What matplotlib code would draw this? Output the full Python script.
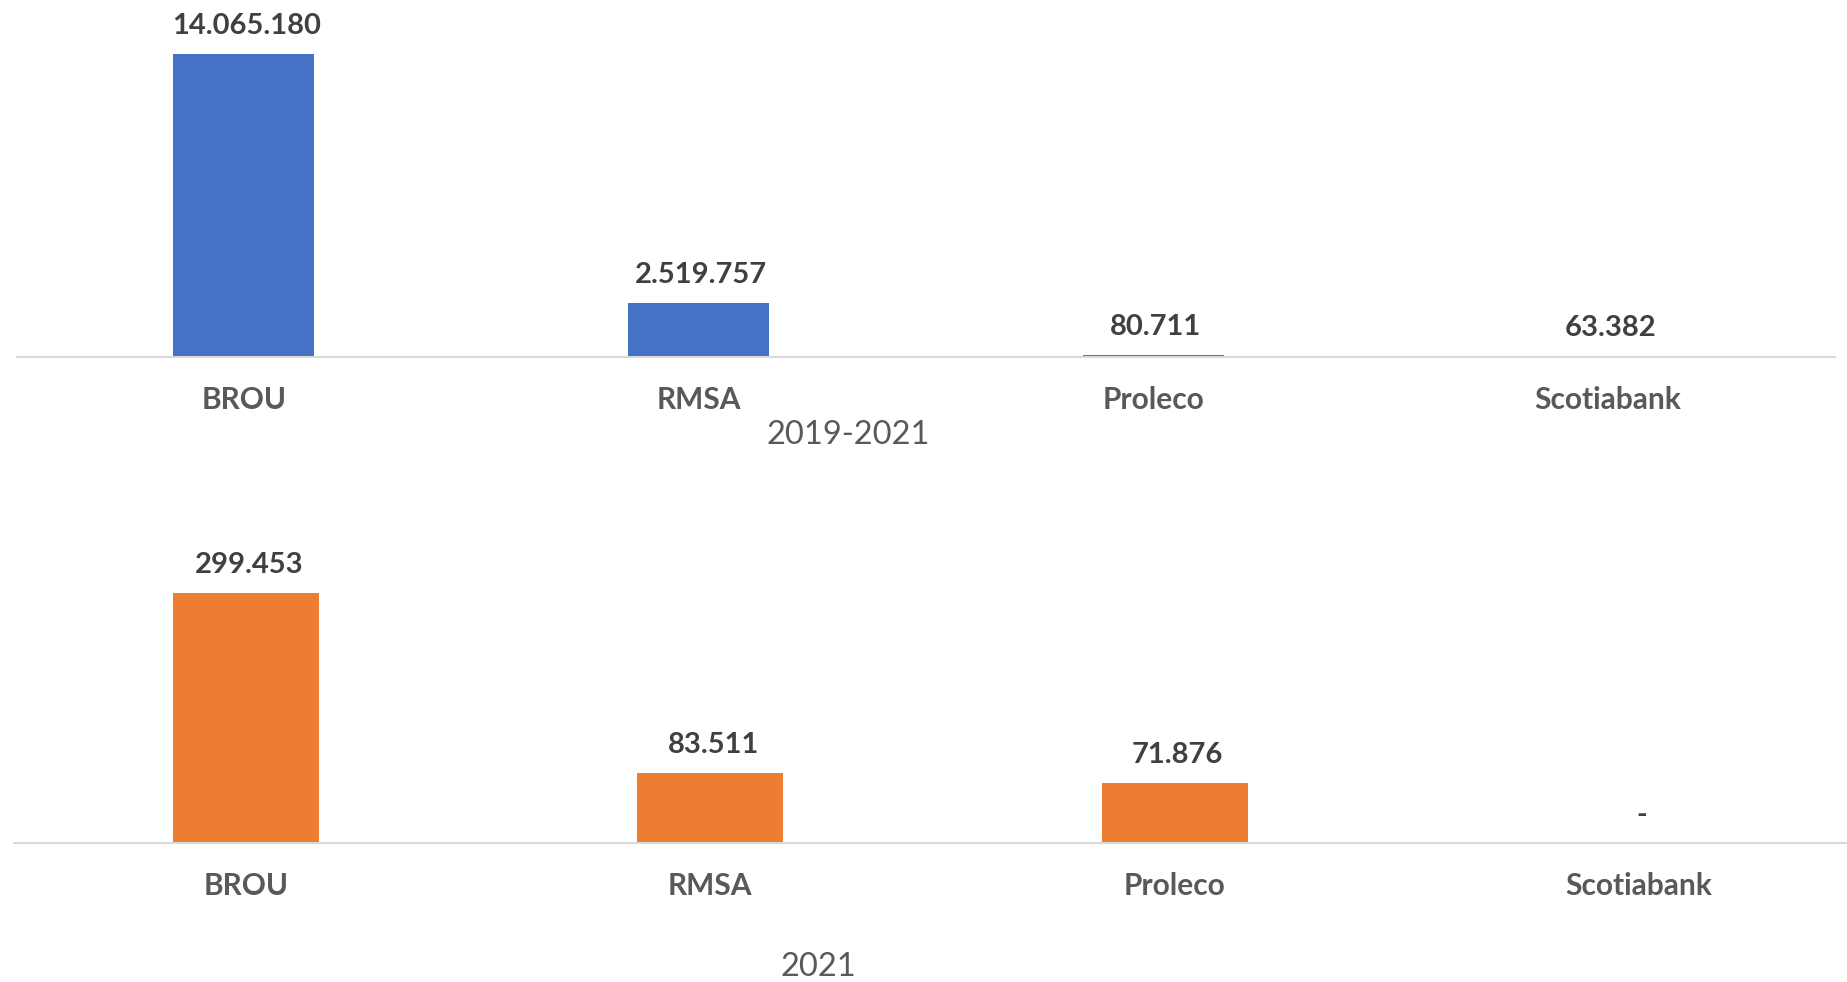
import matplotlib
matplotlib.use("Agg")
import matplotlib.pyplot as plt

plt.rcParams['font.family'] = ['Lato', 'DejaVu Sans']

banks = ['BROU', 'RMSA', 'Proleco', 'Scotiabank']
vals_1921 = [14065180, 2519757, 80711, 63382]
vals_2021 = [299453, 83511, 71876, 0]
title_1921 = '2019-2021'
title_2021 = '2021'

BLUE = '#4472C4'
ORANGE = '#ED7D31'
W, H = 1847, 982


def fmt(v):
    if v == 0:
        return '-'
    return f'{v:,}'.replace(',', '.')


def panel(ax, vals, color, width):
    x = range(len(banks))
    ax.bar(x, vals, width=width, color=color)
    for xi, v in zip(x, vals):
        ax.annotate(fmt(v), (xi, v), xytext=(2, 20), textcoords='offset points',
                    ha='center', va='center', fontsize=21, fontweight='bold',
                    color='#404040', annotation_clip=False)
    ax.set_xlim(-0.5, len(banks) - 0.5)
    ax.set_ylim(0, max(vals))
    ax.set_xticks(list(x))
    ax.set_xticklabels(banks, fontsize=21.5, fontweight='bold', color='#595959')
    ax.tick_params(axis='x', length=0, pad=21)
    ax.set_yticks([])
    for s in ['top', 'left', 'right']:
        ax.spines[s].set_visible(False)
    ax.spines['bottom'].set_color('#d9d9d9')
    ax.spines['bottom'].set_linewidth(1.5)
    ax.patch.set_alpha(0)


fig = plt.figure(figsize=(W / 100, H / 100), dpi=100)

# top panel: axis line at y=357px, tallest bar top at 54px
ax1 = fig.add_axes([16.5 / W, 1 - 357 / H, (1835 - 16.5) / W, 303 / H])
panel(ax1, vals_1921, BLUE, 0.31)
fig.text(848 / W, 1 - 435 / H, title_1921, ha='center', va='center',
         fontsize=23.5, color='#595959')

# bottom panel: axis line at y=843px, runs past the right edge
ax2 = fig.add_axes([14 / W, 1 - 843 / H, (1871 - 14) / W, 250.5 / H])
panel(ax2, vals_2021, ORANGE, 0.315)
fig.text(818 / W, 1 - 967 / H, title_2021, ha='center', va='center',
         fontsize=23.5, color='#595959')

fig.savefig('out.png', dpi=100)
